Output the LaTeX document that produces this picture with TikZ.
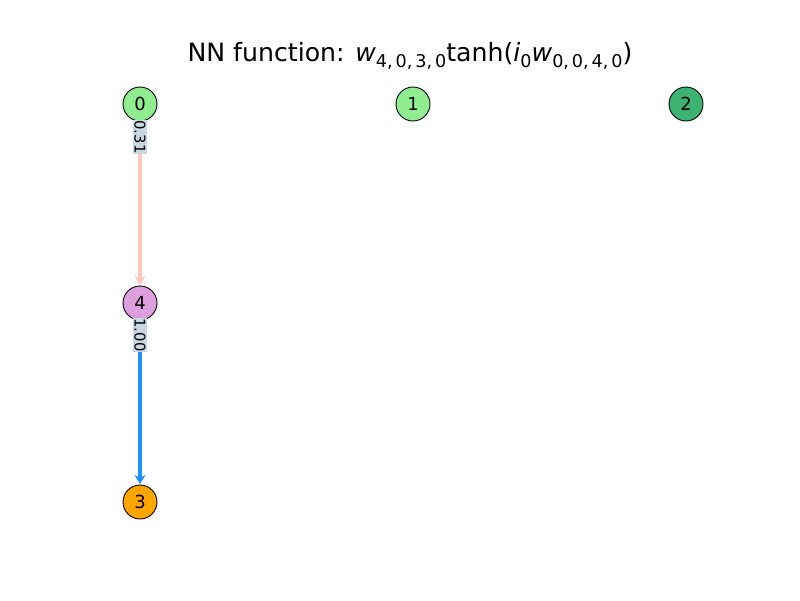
\documentclass[tikz,border=0pt]{standalone}
\usepackage{fontspec}
\setmainfont{DejaVu Sans}
\usetikzlibrary{arrows.meta}
\definecolor{lgreen}{HTML}{90EE90}
\definecolor{mgreen}{HTML}{3CB371}
\definecolor{plumc}{HTML}{DDA0DD}
\definecolor{orangec}{HTML}{FFA500}
\definecolor{dblue}{HTML}{1E90FF}
\definecolor{salmonc}{HTML}{FFC6BE}
\definecolor{lblbox}{HTML}{C9D7E3}
\newcommand\mysub[1]{\raisebox{-0.22em}{\fontsize{17.6}{17.6}\selectfont #1}}
\tikzset{
  nn/.style={circle,draw=black,line width=0.9pt,minimum size=34pt,inner sep=0pt,font=\fontsize{18}{18}\selectfont},
  edge/.style={line width=4.5pt,-{Stealth[length=9pt,width=11pt]},shorten >=0.5pt},
  lbl/.style={fill=lblbox,rotate=-90,inner xsep=1pt,inner ysep=1pt,font=\fontsize{14.8}{14.8}\selectfont}
}
\begin{document}
\begin{tikzpicture}[x=1pt,y=-1pt]
\useasboundingbox (0,0) rectangle (800,600);
\node[font=\fontsize{25.2}{25.2}\selectfont] (title) at (410,56) {NN function: \textit{w}\mysub{4,\,0,\,3,\,0}tanh(\textit{i}\mysub{0}\textit{w}\mysub{0,\,0,\,4,\,0})};
\node[nn,fill=lgreen] (n0) at (140,104) {0};
\node[nn,fill=lgreen] (n1) at (413,104) {1};
\node[nn,fill=mgreen] (n2) at (686,104) {2};
\node[nn,fill=plumc] (n4) at (140,303) {4};
\node[nn,fill=orangec] (n3) at (140,502) {3};
\draw[edge,salmonc] (n0) -- (n4);
\draw[edge,dblue] (n4) -- (n3);
\node[lbl] (l1) at (140,137) {0.31};
\node[lbl] (l2) at (140,335) {1.00};
\end{tikzpicture}
\end{document}
